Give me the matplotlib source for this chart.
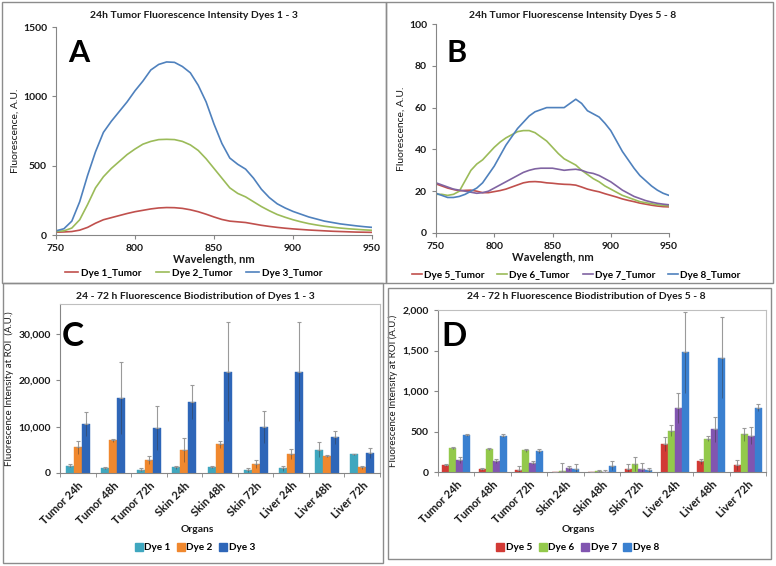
import numpy as np
import matplotlib
matplotlib.use('Agg')
import matplotlib.pyplot as plt
from matplotlib.patches import Rectangle
from matplotlib.lines import Line2D
from matplotlib.ticker import FuncFormatter

plt.rcParams['font.family'] = ['Lato', 'DejaVu Sans']

#===Spectra (panel A and B)===
wl = list(range(750, 955, 5))
dye1 = [20, 22, 25, 35, 55, 85, 110, 125, 140, 155, 168, 178, 188, 195, 198, 197, 192, 182, 168, 150,
        130, 112, 100, 95, 90, 80, 70, 62, 55, 49, 44, 40, 36, 33, 30, 27, 25, 23, 21, 20, 19]
dye2 = [25, 30, 50, 110, 220, 340, 420, 480, 530, 580, 620, 655, 675, 688, 690, 688, 675, 650, 610, 550,
        480, 410, 340, 300, 275, 240, 205, 175, 148, 128, 110, 95, 82, 72, 63, 56, 50, 45, 41, 37, 34]
dye3 = [30, 45, 100, 240, 430, 600, 740, 820, 890, 960, 1040, 1110, 1190, 1230, 1248, 1245, 1215, 1170, 1080, 960,
        800, 660, 555, 510, 475, 410, 330, 270, 225, 195, 170, 150, 130, 115, 100, 90, 80, 73, 66, 60, 55]
dye5 = [23.5, 22.5, 21.5, 20.8, 20.2, 20.4, 20.5, 20, 19.3, 19.3, 19.8, 20.3, 21, 22, 23, 24, 24.5, 24.6, 24.4, 24,
        23.8, 23.5, 23.3, 23.2, 22.9, 22, 21, 20.3, 19.7, 18.8, 18, 17.2, 16.3, 15.6, 15, 14.3, 13.8, 13.3, 12.9, 12.6, 12.5]
dye6 = [18.5, 18.5, 18, 18.5, 20, 25, 30, 33, 35, 38, 41, 43.5, 45.5, 47, 48.5, 49, 49, 48, 46, 44,
        41, 38, 35.5, 34, 32.5, 30, 28, 26, 24.5, 22.5, 21, 19.5, 18, 17, 16, 15, 14.5, 14, 13.5, 13.2, 13]
dye7 = [24, 23, 22, 21, 20.5, 20, 19.5, 19, 19.3, 20, 21.5, 23, 24.5, 26, 27.5, 29, 30, 30.7, 31, 31,
        31, 30.5, 30, 30.3, 30.5, 30, 29, 28.5, 27.5, 26, 24.5, 22.5, 20.5, 19, 17.5, 16.5, 15.5, 14.8, 14.2, 13.8, 13.5]
dye8 = [19, 18, 17, 17, 17.5, 18.5, 20, 21.5, 24, 28, 32, 37, 42, 46, 50, 53, 56, 58, 59, 60,
        60, 60, 60, 62, 64, 62, 58.5, 57, 55.5, 52.5, 49, 44, 39, 35, 31, 27.5, 25, 22.5, 20.5, 19, 18]

#===Biodistribution (panel C and D)===
organs = ['Tumor 24h', 'Tumor 48h', 'Tumor 72h', 'Skin 24h', 'Skin 48h', 'Skin 72h',
          'Liver 24h', 'Liver 48h', 'Liver 72h']
c_dye1 = [1600, 1100, 700, 1200, 1300, 700, 1000, 5000, 4000]
c_dye1_err = [300, 250, 300, 300, 300, 400, 500, 1600, 150]
c_dye2 = [5600, 7100, 2800, 4900, 6200, 2000, 4100, 3700, 1200]
c_dye2_err = [1400, 300, 800, 2600, 700, 900, 1000, 200, 300]
c_dye3 = [10500, 16200, 9700, 15400, 21900, 9900, 21900, 7700, 4400]
c_dye3_err = [2600, 7700, 4800, 3700, 10700, 3500, 10700, 1400, 1100]

d_dye5 = [85, 35, 25, 0, 0, 40, 345, 130, 85]
d_dye5_err = [15, 10, 45, 0, 0, 60, 90, 30, 65]
d_dye6 = [295, 285, 270, 15, 10, 100, 510, 410, 465]
d_dye6_err = [15, 15, 20, 95, 10, 90, 70, 30, 80]
d_dye7 = [150, 140, 115, 50, 5, 35, 790, 525, 445]
d_dye7_err = [40, 25, 15, 30, 20, 70, 180, 160, 105]
d_dye8 = [455, 450, 260, 35, 80, 20, 1480, 1410, 795]
d_dye8_err = [15, 15, 25, 60, 50, 30, 500, 500, 45]

W, H = 776, 566
fig = plt.figure(figsize=(W / 100, H / 100), dpi=100)

def box(l, t, r, b):
  #pixel box -> figure fraction axes rect
  return [l / W, 1 - b / H, (r - l) / W, (b - t) / H]

def frame(l, t, r, b):
  fig.add_artist(Rectangle((l / W, 1 - b / H), (r - l) / W, (b - t) / H, transform=fig.transFigure,
                           fill=False, edgecolor='#8c8c8c', linewidth=1.0))

frame(2, 2, 386, 283)
frame(386, 2, 773, 283)
frame(3, 283, 383, 563)
frame(388, 288, 771, 559)

axis_col = '#868686'
txt = '#1a1a1a'
fs_title = 7.5
fs_tick = 7.5
fs_leg = 7.2

def line_axes(ax):
  for s in ['top', 'right']:
    ax.spines[s].set_visible(False)
  for s in ['left', 'bottom']:
    ax.spines[s].set_color(axis_col)
  ax.tick_params(direction='out', length=3, color=axis_col, labelsize=fs_tick, labelcolor=txt)
  for lab in ax.get_xticklabels() + ax.get_yticklabels():
    lab.set_fontweight('bold')
  ax.set_xlim(750, 950)
  ax.set_xticks([750, 800, 850, 900, 950])
  ax.set_xlabel('Wavelength, nm', fontsize=8, fontweight='bold', color=txt, labelpad=1)
  ax.set_ylabel('Fluorescence, A.U.', fontsize=7.5, color=txt, labelpad=2)

#===Panel A===
axA = fig.add_axes(box(56, 27, 372, 235))
axA.plot(wl, dye1, color='#C0504D', lw=1.2, label='Dye 1_Tumor')
axA.plot(wl, dye2, color='#9BBB59', lw=1.2, label='Dye 2_Tumor')
axA.plot(wl, dye3, color='#4F81BD', lw=1.2, label='Dye 3_Tumor')
axA.set_ylim(0, 1500)
axA.set_yticks([0, 500, 1000, 1500])
line_axes(axA)
axA.legend(loc='center', bbox_to_anchor=(194 / W, 1 - 273 / H), bbox_transform=fig.transFigure,
           ncol=3, frameon=False, prop={'size': fs_leg, 'weight': 'bold'}, handlelength=1.3,
           columnspacing=1.4, handletextpad=0.3)
fig.text(194 / W, 1 - 16 / H, '24h Tumor Fluorescence Intensity Dyes 1 - 3', ha='center', va='center',
         fontsize=fs_title, fontweight='bold', color=txt)
fig.text(68 / W, 1 - 53 / H, 'A', ha='left', va='center', fontsize=22, fontweight='bold', color='black')

#===Panel B===
axB = fig.add_axes(box(436, 24, 669, 233))
axB.plot(wl, dye5, color='#C0504D', lw=1.2, label='Dye 5_Tumor')
axB.plot(wl, dye6, color='#9BBB59', lw=1.2, label='Dye 6_Tumor')
axB.plot(wl, dye7, color='#8064A2', lw=1.2, label='Dye 7_Tumor')
axB.plot(wl, dye8, color='#4F81BD', lw=1.2, label='Dye 8_Tumor')
axB.set_ylim(0, 100)
axB.set_yticks([0, 20, 40, 60, 80, 100])
line_axes(axB)
axB.legend(loc='center', bbox_to_anchor=(576 / W, 1 - 275 / H), bbox_transform=fig.transFigure,
           ncol=4, frameon=False, prop={'size': fs_leg, 'weight': 'bold'}, handlelength=1.0,
           columnspacing=1.3, handletextpad=0.2)
fig.text(573 / W, 1 - 16 / H, '24h Tumor Fluorescense Intensity Dyes 5 - 8', ha='center', va='center',
         fontsize=fs_title, fontweight='bold', color=txt)
fig.text(447 / W, 1 - 53 / H, 'B', ha='left', va='center', fontsize=22, fontweight='bold', color='black')

#===Bar panels===
def bar_axes(ax, series, errs, colors, labels, ymax, yticks, legend_x, ylab):
  x = np.arange(len(organs))
  n = len(series)
  w = {3: 0.225, 4: 0.19}[n]
  for i, (vals, err, col, lab) in enumerate(zip(series, errs, colors, labels)):
    pos = x + (i - (n - 1) / 2) * w
    ax.bar(pos, vals, width=w, color=col, edgecolor=col, linewidth=0.3, label=lab, zorder=2)
    ax.errorbar(pos, vals, yerr=[np.zeros(len(vals)), err], fmt='none', ecolor='#9a9a9a',
                elinewidth=0.8, capsize=1.5, capthick=0.8, zorder=3)
    ax.errorbar(pos, vals, yerr=[err, np.zeros(len(vals))], fmt='none', ecolor='#333333',
                elinewidth=0.6, capsize=0, zorder=3, alpha=0.5)
  ax.set_xlim(-0.5, len(organs) - 0.5)
  ax.set_ylim(0, ymax)
  ax.set_yticks(yticks)
  ax.yaxis.set_major_formatter(FuncFormatter(lambda v, p: '{:,.0f}'.format(v)))
  ax.set_xticks(x)
  ax.set_xticklabels(organs, rotation=45, ha='right', rotation_mode='anchor')
  ax.set_xticks(np.arange(-0.5, len(organs), 1), minor=True)
  ax.tick_params(axis='x', which='major', length=0, labelsize=fs_tick + 0.5, labelcolor=txt, pad=5)
  ax.tick_params(axis='x', which='minor', length=3, color=axis_col, direction='out')
  ax.tick_params(axis='y', length=3, color=axis_col, direction='out', labelsize=fs_tick, labelcolor=txt)
  for lab in ax.get_xticklabels() + ax.get_yticklabels():
    lab.set_fontweight('bold')
  for s in ax.spines.values():
    s.set_color('#bfbfbf')
  ax.spines['bottom'].set_color(axis_col)
  ax.spines['left'].set_color(axis_col)
  ax.set_ylabel(ylab, fontsize=7, color=txt, labelpad=3)
  handles = [Line2D([], [], marker='s', linestyle='none', markersize=5.5, markerfacecolor=c,
                    markeredgecolor=c) for c in colors]
  ax.legend(handles, labels, loc='center', bbox_to_anchor=(legend_x / W, 1 - 548 / H),
            bbox_transform=fig.transFigure, ncol=n, frameon=False,
            prop={'size': fs_leg, 'weight': 'bold'}, handlelength=0.7, handletextpad=0.2, columnspacing=0.7)

#===Panel C===
axC = fig.add_axes(box(60, 304, 380, 473))
bar_axes(axC, [c_dye1, c_dye2, c_dye3], [c_dye1_err, c_dye2_err, c_dye3_err],
         ['#3FA7BF', '#F0882E', '#2E66B8'], ['Dye 1', 'Dye 2', 'Dye 3'],
         36500, [0, 10000, 20000, 30000], 195, 'Fluorescence Intensity at ROI  (A.U.)')
fig.text(195 / W, 1 - 296 / H, '24 - 72 h Fluorescence Biodistribution of Dyes 1 - 3', ha='center',
         va='center', fontsize=fs_title, fontweight='bold', color=txt)
fig.text(197 / W, 1 - 529 / H, 'Organs', ha='center', va='center', fontsize=7.5, fontweight='bold', color=txt)
fig.text(62 / W, 1 - 336 / H, 'C', ha='left', va='center', fontsize=24, fontweight='bold', color='black')

#===Panel D===
axD = fig.add_axes(box(438, 310, 766, 472))
bar_axes(axD, [d_dye5, d_dye6, d_dye7, d_dye8], [d_dye5_err, d_dye6_err, d_dye7_err, d_dye8_err],
         ['#D23A35', '#93C94B', '#8155B0', '#3A80D0'], ['Dye 5', 'Dye 6', 'Dye 7', 'Dye 8'],
         2000, [0, 500, 1000, 1500, 2000], 578, 'Fluorescence Intensity at ROI (A.U.)')
fig.text(586 / W, 1 - 296 / H, '24 - 72 h Fluorescence Biodistribution of Dyes 5 - 8', ha='center',
         va='center', fontsize=fs_title, fontweight='bold', color=txt)
fig.text(578 / W, 1 - 529 / H, 'Organs', ha='center', va='center', fontsize=7.5, fontweight='bold', color=txt)
fig.text(441 / W, 1 - 336 / H, 'D', ha='left', va='center', fontsize=24, fontweight='bold', color='black')

fig.savefig('out.png', dpi=100)
